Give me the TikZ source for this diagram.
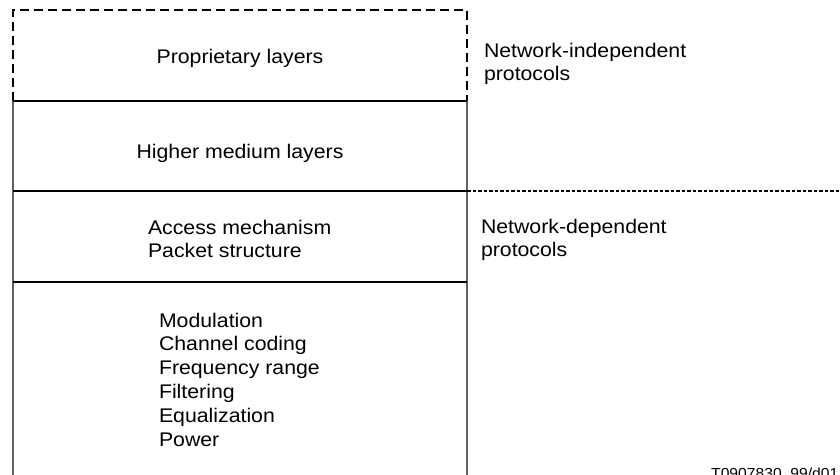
\documentclass[tikz,border=0pt]{standalone}
\usepackage{fontspec}
\setmainfont[FakeStretch=1.08]{Liberation Sans}
\begin{document}
\begin{tikzpicture}[x=1pt,y=-1pt,
  lbl/.style={inner sep=0pt,outer sep=0pt,font=\fontsize{19.7}{23}\selectfont},
  rule/.style={line width=1.5pt,black},
  side/.style={line width=1.3pt,draw=black!62},
  dashbox/.style={line width=1.3pt,black,dash pattern=on 9pt off 5pt},
  dotline/.style={line width=1.5pt,black,dash pattern=on 3.5pt off 2pt}]
\useasboundingbox (0,0) rectangle (840,474);
% corners
\coordinate (tl) at (13,10);
\coordinate (tr) at (467,10);
\coordinate (a1) at (13,101);
\coordinate (a2) at (467,101);
\coordinate (b1) at (13,191);
\coordinate (b2) at (467,191);
\coordinate (b3) at (840,191);
\coordinate (c1) at (13,282);
\coordinate (c2) at (467,282);
\coordinate (d1) at (13,480);
\coordinate (d2) at (467,480);
% dashed top
\draw[dashbox] (a1) -- (tl) -- (tr) -- (a2);
% verticals
\draw[side] (a1) -- (d1);
\draw[side] (a2) -- (d2);
% horizontals
\draw[rule] (a1) -- (a2);
\draw[rule] (b1) -- (b2);
\draw[rule] (c1) -- (c2);
\draw[dotline] (b2) -- (b3);
% texts
\node[lbl,anchor=base] (prop) at (240,63) {Proprietary layers};
\node[lbl,anchor=base west] (ni1) at (484,57) {Network-independent};
\node[lbl,anchor=base west] (ni2) at (484,80) {protocols};
\node[lbl,anchor=base] (high) at (240,158) {Higher medium layers};
\node[lbl,anchor=base west] (acc) at (148,234) {Access mechanism};
\node[lbl,anchor=base west] (pkt) at (148,257) {Packet structure};
\node[lbl,anchor=base west] (nd1) at (481,233) {Network-dependent};
\node[lbl,anchor=base west] (nd2) at (481,256) {protocols};
\node[lbl,anchor=base west] (m1) at (159,327) {Modulation};
\node[lbl,anchor=base west] (m2) at (159,350.8) {Channel coding};
\node[lbl,anchor=base west] (m3) at (159,374.6) {Frequency range};
\node[lbl,anchor=base west] (m4) at (159,398.4) {Filtering};
\node[lbl,anchor=base west] (m5) at (159,422.2) {Equalization};
\node[lbl,anchor=base west] (m6) at (159,446) {Power};
\node[inner sep=0pt,anchor=base west,font=\fontsize{14.5}{17}\selectfont] (id) at (711,478.5) {T0907830\_99/d01};
\end{tikzpicture}
\end{document}
